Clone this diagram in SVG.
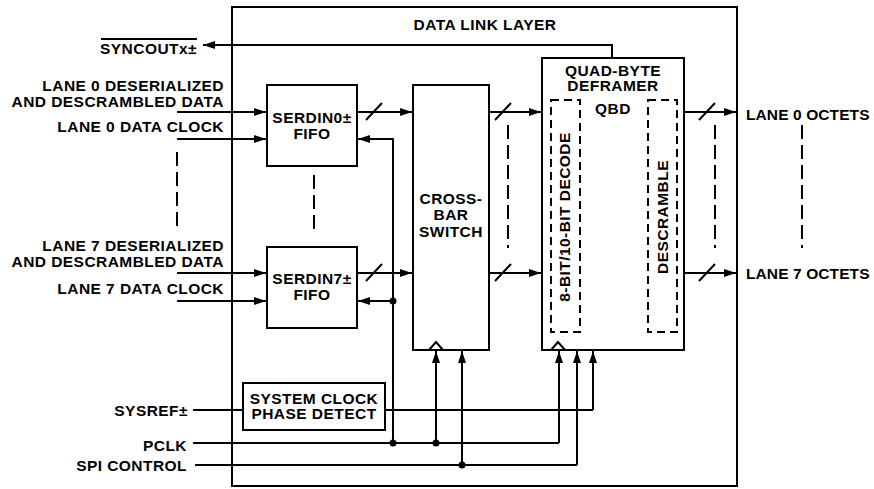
<svg xmlns="http://www.w3.org/2000/svg" width="874" height="489" viewBox="0 0 874 489">
<defs>
<marker id="ah" viewBox="0 0 12 8" refX="12" refY="4" markerWidth="12" markerHeight="8" markerUnits="userSpaceOnUse" orient="auto">
<path d="M0,0 L12,4 L0,8 Z" fill="#000"/>
</marker>
</defs>
<style>
.t{font-family:"Liberation Sans",Arial,sans-serif;font-weight:bold;font-size:15.5px;letter-spacing:0.45px;fill:#000}
.o{letter-spacing:0.1px}
.m{text-anchor:middle}
.r{text-anchor:end}
.b{fill:#fff;stroke:#000;stroke-width:2}
.db{fill:none;stroke:#000;stroke-width:2;stroke-dasharray:8,5}
.l{fill:none;stroke:#000;stroke-width:2}
.a{fill:none;stroke:#000;stroke-width:2;marker-end:url(#ah)}
.d{fill:none;stroke:#000;stroke-width:2;stroke-dasharray:14,6}
.dot{fill:#000}
</style>
<rect width="874" height="489" fill="#fff"/>
<g id="outer">
<rect class="l" x="232" y="7" width="505" height="479"/>
<text class="t m" x="485" y="30">DATA LINK LAYER</text>
</g>
<g id="connectors">
<path class="a" d="M612,58 V45 H203"/>
<path class="a" d="M177,112 H266"/>
<path class="a" d="M177,139 H266"/>
<path class="a" d="M177,273 H266"/>
<path class="a" d="M177,301 H266"/>
<path class="a" d="M357,112 H412"/>
<path class="a" d="M357,273 H412"/>
<path class="a" d="M393,443 V139 H358"/>
<path class="a" d="M393,301 H358"/>
<path class="a" d="M489,112 H541"/>
<path class="a" d="M489,273 H541"/>
<path class="a" d="M684,112 H736"/>
<path class="a" d="M684,273 H736"/>
<path class="l" d="M193,410 H243 M385,410 H593"/>
<path class="a" d="M593,410 V351"/>
<path class="l" d="M193,443 H559"/>
<path class="a" d="M559,443 V351"/>
<path class="a" d="M436,443 V351"/>
<path class="l" d="M195,465 H577"/>
<path class="a" d="M577,465 V351"/>
<path class="a" d="M462,465 V351"/>
<circle class="dot" cx="393" cy="301" r="3.5"/>
<circle class="dot" cx="393" cy="443" r="3.5"/>
<circle class="dot" cx="436" cy="443" r="3.5"/>
<circle class="dot" cx="462" cy="465" r="3.5"/>
<path class="l" d="M366,120 L382,103 M366,281 L382,264 M495,120 L511,103 M495,281 L511,264 M699,120 L715,103 M699,281 L715,264"/>
<path class="d" d="M177,152 V230 M314,175 V235 M508,125 V248 M715,125 V248 M802,125 V248"/>
</g>
<g id="serdin0">
<rect class="b" x="267" y="85" width="90" height="81"/>
<text class="t m" x="312" y="123">SERDIN0±</text>
<text class="t m" x="312" y="139">FIFO</text>
</g>
<g id="serdin7">
<rect class="b" x="267" y="247" width="90" height="81"/>
<text class="t m" x="312" y="284">SERDIN7±</text>
<text class="t m" x="312" y="300">FIFO</text>
</g>
<g id="crossbar">
<rect class="b" x="413" y="85" width="76" height="265"/>
<path class="l" d="M429,350 L436,342 L443,350"/>
<text class="t m" x="451" y="204">CROSS-</text>
<text class="t m" x="451" y="220">BAR</text>
<text class="t m" x="451" y="237">SWITCH</text>
</g>
<g id="qbd">
<rect class="b" x="542" y="58" width="142" height="292"/>
<path class="l" d="M551,350 L558,342 L565,350"/>
<text class="t m" x="613" y="76">QUAD-BYTE</text>
<text class="t m" x="613" y="91">DEFRAMER</text>
<text class="t m" x="613" y="114">QBD</text>
</g>
<g id="decode">
<rect class="db" x="551" y="100" width="29" height="232"/>
<text class="t m" transform="translate(570,217) rotate(-90)">8-BIT/10-BIT DECODE</text>
</g>
<g id="descramble">
<rect class="db" x="648" y="100" width="29" height="232"/>
<text class="t m" transform="translate(668,217) rotate(-90)">DESCRAMBLE</text>
</g>
<g id="sysclk">
<rect class="b" x="243" y="383" width="142" height="47"/>
<text class="t m" x="314" y="404">SYSTEM CLOCK</text>
<text class="t m" x="314" y="419">PHASE DETECT</text>
</g>
<g id="labels">
<text class="t r" x="197" y="54">SYNCOUTx±</text>
<path class="l" d="M101,39 H197" stroke-width="1.5"/>
<text class="t r" x="224" y="91">LANE 0 DESERIALIZED</text>
<text class="t r" x="224" y="107">AND DESCRAMBLED DATA</text>
<text class="t r" x="224" y="132">LANE 0 DATA CLOCK</text>
<text class="t r" x="224" y="251">LANE 7 DESERIALIZED</text>
<text class="t r" x="224" y="267">AND DESCRAMBLED DATA</text>
<text class="t r" x="224" y="294">LANE 7 DATA CLOCK</text>
<text class="t r" x="188" y="416">SYSREF±</text>
<text class="t r" x="187" y="451">PCLK</text>
<text class="t r" x="187" y="471">SPI CONTROL</text>
<text class="t o" x="746" y="120">LANE 0 OCTETS</text>
<text class="t o" x="746" y="279">LANE 7 OCTETS</text>
</g>
</svg>
